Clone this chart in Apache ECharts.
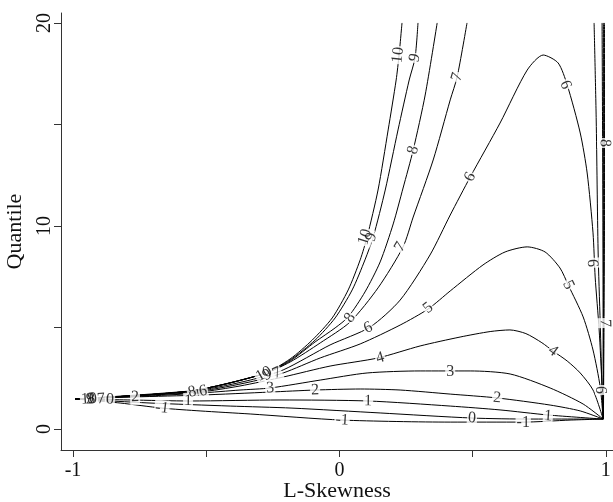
<!DOCTYPE html>
<html><head><meta charset="utf-8">
<script src="https://cdn.jsdelivr.net/npm/echarts@6/dist/echarts.min.js"></script>
<style>html,body{margin:0;padding:0;background:#fff}#c{width:613px;height:502px}</style>
</head><body><div id="c"></div>
<script>
// ---- axis ticks ----
const xTicks = [-1, -0.5, 0, 0.5, 1];
const xTickLabels = [-1, 0, 1];
const yTicks = [0, 5, 10, 15, 20];
const yTickLabels = [0, 10, 20];

// ---- contour lines: [L-skewness, quantile] ----
const cM1 = [[-0.992,1.48],[-0.823,1.28],[-0.666,1.03],[-0.523,0.89],[-0.335,0.74],[0.010,0.44],[0.416,0.34],[0.690,0.34],[0.866,0.44],[0.990,0.49]];
const c0  = [[-0.992,1.48],[-0.711,1.28],[-0.410,1.13],[-0.178,1.03],[0.153,0.79],[0.498,0.54],[0.716,0.49],[0.990,0.49]];
const c1  = [[-0.992,1.48],[-0.786,1.43],[-0.560,1.38],[-0.223,1.43],[0.108,1.38],[0.416,1.13],[0.603,0.94],[0.783,0.69],[0.990,0.49]];
const c2  = [[-0.992,1.48],[-0.767,1.58],[-0.523,1.67],[-0.260,1.82],[-0.091,1.92],[0.078,1.97],[0.228,1.92],[0.416,1.72],[0.592,1.53],[0.791,1.18],[0.904,0.89],[0.990,0.49]];
const c3  = [[-0.992,1.48],[-0.711,1.63],[-0.523,1.77],[-0.373,1.92],[-0.260,2.02],[-0.072,2.41],[0.104,2.76],[0.303,2.86],[0.491,2.86],[0.641,2.71],[0.791,2.02],[0.915,1.23],[0.990,0.49]];
const c4  = [[-0.992,1.48],[-0.711,1.67],[-0.523,1.82],[-0.373,2.12],[-0.211,2.56],[-0.035,3.10],[0.145,3.50],[0.303,4.09],[0.453,4.53],[0.566,4.80],[0.640,4.88],[0.700,4.70],[0.760,4.25],[0.802,3.84],[0.855,3.35],[0.904,2.76],[0.952,1.92],[0.990,0.49]];
const c5  = [[-0.992,1.48],[-0.523,1.87],[-0.335,2.32],[-0.211,2.76],[-0.072,3.50],[0.078,4.19],[0.228,5.12],[0.333,5.91],[0.416,6.80],[0.539,8.08],[0.622,8.72],[0.705,8.97],[0.772,8.72],[0.828,7.93],[0.859,7.09],[0.915,5.52],[0.952,3.89],[0.979,2.07],[0.990,0.49]];
const c6  = [[-0.992,1.48],[-0.523,1.92],[-0.335,2.41],[-0.211,2.91],[-0.035,4.14],[0.115,5.02],[0.228,6.35],[0.340,8.57],[0.416,10.54],[0.491,12.41],[0.603,15.07],[0.705,17.68],[0.765,18.42],[0.821,18.03],[0.855,16.95],[0.904,14.58],[0.930,12.61],[0.952,9.66],[0.960,7.49],[0.975,4.88],[0.986,2.07],[0.990,0.49]];
const c7a = [[-0.992,1.48],[-0.560,1.87],[-0.286,2.71],[-0.185,3.30],[-0.072,4.24],[0.040,5.27],[0.145,6.95],[0.239,8.97],[0.277,10.44],[0.352,13.25],[0.416,16.21],[0.442,17.34],[0.479,20.0]];
const c7b = [[0.956,20.0],[0.964,15.22],[0.971,8.82],[0.979,5.22],[0.986,1.92],[0.990,0.49]];
const c8a = [[-0.992,1.48],[-0.560,1.87],[-0.286,2.71],[-0.185,3.35],[-0.091,4.29],[-0.016,4.98],[0.033,5.52],[0.096,6.75],[0.153,8.23],[0.202,10.10],[0.239,11.87],[0.277,13.74],[0.322,16.45],[0.367,20.0]];
const c8b = [[0.986,20.0],[0.988,14.09],[0.990,5.0],[0.990,0.49]];
const c9a = [[-0.992,1.48],[-0.560,1.87],[-0.286,2.71],[-0.185,3.40],[-0.091,4.38],[-0.016,5.47],[0.048,6.85],[0.096,8.33],[0.127,9.46],[0.172,11.77],[0.220,14.73],[0.262,17.19],[0.284,18.28],[0.295,20.0]];
const c9b = [[0.991,20.0],[0.991,10.0],[0.991,0.49]];
const c10a = [[-0.992,1.48],[-0.560,1.87],[-0.286,2.71],[-0.185,3.45],[-0.102,4.38],[-0.027,5.47],[0.033,6.85],[0.078,8.33],[0.104,9.46],[0.145,11.77],[0.183,14.73],[0.213,17.19],[0.224,18.42],[0.235,20.0]];
const c10b = [[0.995,20.0],[0.995,10.0],[0.991,0.49]];

const pieces = [[-1,cM1],[0,c0],[1,c1],[2,c2],[3,c3],[4,c4],[5,c5],[6,c6],
  [7,c7a],[7,c7b],[8,c8a],[8,c8b],[9,c9a],[9,c9b],[10,c10a],[10,c10b]];

// ---- contour labels: [text, L-skewness, quantile] ----
const contourLabels = [
  ["10",-0.940,1.48],["9",-0.936,1.48],["8",-0.932,1.48],["7",-0.895,1.48],["0",-0.861,1.45],
  ["2",-0.767,1.58],["-1",-0.666,1.03],["1",-0.568,1.38],["8",-0.553,1.82],["6",-0.512,1.87],
  ["10",-0.283,2.71],["9",-0.271,2.66],["7",-0.234,2.76],["3",-0.260,2.02],
  ["2",-0.091,1.92],["1",0.108,1.38],["-1",0.010,0.44],["0",0.498,0.54],["-1",0.690,0.30],
  ["1",0.783,0.64],["2",0.592,1.53],["3",0.416,2.81],["4",0.153,3.50],["4",0.802,3.84],
  ["5",0.333,5.96],["5",0.859,7.09],["6",0.108,4.98],["6",0.491,12.41],["6",0.848,16.95],
  ["6",0.949,8.18],["8",0.040,5.47],["8",0.277,13.74],["7",0.228,8.97],["7",0.442,17.34],
  ["10",0.096,9.46],["9",0.120,9.46],["10",0.220,18.42],["9",0.284,18.28],
  ["8",0.997,14.09],["7",0.997,5.22],["9",0.990,1.92]
];

const FONT = '"Liberation Serif","Times New Roman",serif';
const chart = echarts.init(document.getElementById('c'), null, {renderer: 'canvas'});

const lineSeries = pieces.map(([lv, pts]) => ({
  type: 'line', name: String(lv), data: pts, symbol: 'none', showSymbol: false,
  smooth: 0.25, silent: true, z: 2,
  lineStyle: {color: '#000', width: 1}
}));

chart.setOption({
  animation: false,
  backgroundColor: '#fff',
  grid: {left: 61, right: 0, top: 13, bottom: 52, containLabel: false, outerBoundsMode: 'none'},
  xAxis: {
    type: 'value', min: -1.045, max: 1.027,
    name: 'L-Skewness', nameLocation: 'middle', nameGap: 30, nameMoveOverlap: false,
    nameTextStyle: {fontFamily: FONT, fontSize: 22, color: '#111'},
    axisLine: {show: true, onZero: false, lineStyle: {color: '#333', width: 1}},
    axisTick: {show: true, inside: false, length: 7, customValues: xTicks, lineStyle: {color: '#333'}},
    axisLabel: {show: true, customValues: xTickLabels, margin: 11, fontFamily: FONT, fontSize: 20, color: '#111',
      formatter: v => String(v)},
    splitLine: {show: false}
  },
  yAxis: {
    type: 'value', min: -1.034, max: 20.49,
    name: 'Quantile', nameLocation: 'middle', nameGap: 35, nameRotate: 90, nameMoveOverlap: false,
    nameTextStyle: {fontFamily: FONT, fontSize: 22, color: '#111'},
    axisLine: {show: true, onZero: false, lineStyle: {color: '#333', width: 1}},
    axisTick: {show: true, inside: false, length: 7, customValues: yTicks, lineStyle: {color: '#333'}},
    axisLabel: {show: true, customValues: yTickLabels, rotate: 90, margin: 6, fontFamily: FONT, fontSize: 20, color: '#111',
      formatter: v => String(v)},
    splitLine: {show: false}
  },
  series: lineSeries
});

function segDist(p, a, b) {
  const dx = b[0]-a[0], dy = b[1]-a[1];
  const L = dx*dx + dy*dy;
  let t = L ? ((p[0]-a[0])*dx + (p[1]-a[1])*dy) / L : 0;
  t = Math.max(0, Math.min(1, t));
  const qx = a[0] + t*dx - p[0], qy = a[1] + t*dy - p[1];
  return Math.sqrt(qx*qx + qy*qy);
}
function angleFor(txt, x, y) {
  const p = chart.convertToPixel({gridIndex: 0}, [x, y]);
  let best = 1e9, ang = 0;
  pieces.forEach(([lv, pts]) => {
    if (String(lv) !== txt) return;
    for (let i = 0; i < pts.length - 1; i++) {
      const a = chart.convertToPixel({gridIndex: 0}, pts[i]);
      const b = chart.convertToPixel({gridIndex: 0}, pts[i+1]);
      const d = segDist(p, a, b);
      if (d < best) { best = d; ang = Math.atan2(-(b[1]-a[1]), b[0]-a[0]) * 180 / Math.PI; }
    }
  });
  if (ang > 90) ang -= 180;
  if (ang <= -90) ang += 180;
  return ang;
}

const gapData = [], textData = [];
contourLabels.forEach(([t, x, y]) => {
  const r = angleFor(t, x, y);
  gapData.push({value: [x, y], name: t, label: {rotate: r}});
  textData.push({value: [x, y], name: t, label: {rotate: r}});
});
const baseLabel = {show: true, position: 'inside', formatter: p => p.name, fontFamily: FONT, fontSize: 16,
  align: 'center', verticalAlign: 'middle'};

chart.setOption({
  series: lineSeries.concat([
    {type: 'scatter', data: gapData, symbolSize: 1, itemStyle: {color: 'rgba(0,0,0,0)'}, silent: true, z: 5,
      label: Object.assign({}, baseLabel, {color: 'rgba(0,0,0,0)', backgroundColor: '#fff', padding: [0, 1]})},
    {type: 'scatter', data: textData, symbolSize: 1, itemStyle: {color: 'rgba(0,0,0,0)'}, silent: true, z: 6,
      label: Object.assign({}, baseLabel, {color: '#000'})}
  ])
});
</script>
</body></html>
